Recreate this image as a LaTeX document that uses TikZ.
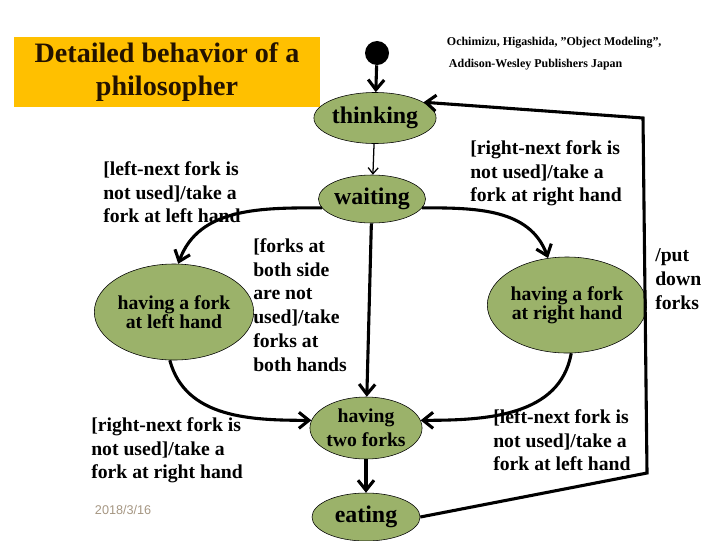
\documentclass[tikz,border=0pt]{standalone}
\usepackage{fontspec}
\setmainfont{Liberation Serif}
\newfontfamily\datefont{Liberation Sans}
\usetikzlibrary{arrows.meta,positioning,shapes.geometric}
\definecolor{stategreen}{RGB}{155,178,106}
\definecolor{titlegold}{RGB}{255,192,0}
\definecolor{titlebrown}{RGB}{35,18,0}
\definecolor{dategray}{RGB}{165,150,130}

\begin{document}
\begin{tikzpicture}[
	x=0.025cm, y=-0.025cm,
	every node/.style={font=\bfseries},
	state/.style={ellipse, draw, fill=stategreen, inner sep=0pt, align=center},
	guard/.style={anchor=north west, inner sep=0pt, align=left, font=\bfseries\fontsize{14}{17}\selectfont},
	arrow/.style={-{Straight Barb[length=2.5mm, width=4mm]}, line width=2.2pt},
	thinarrow/.style={-{Straight Barb[length=1.5mm, width=2.5mm]}, line width=0.9pt}
	]
	\useasboundingbox (0,0) rectangle (720,540);
	
	\node[fill=titlegold, text=titlebrown, minimum width=7.65cm, minimum height=1.75cm, align=center, font=\bfseries\fontsize{20}{23.5}\selectfont] (title) at (167,72) {Detailed behavior of a\\philosopher};
	\node[anchor=west, font=\bfseries\fontsize{8.5}{10}\selectfont] (cite1) at (442,43) {Ochimizu, Higashida, "Object Modeling",};
	\node[anchor=west, font=\bfseries\fontsize{8.5}{10}\selectfont] (cite2) at (444,65) {Addison-Wesley Publishers Japan};
	\node[anchor=west, text=dategray, font=\datefont\fontsize{9}{10}\selectfont] (date) at (90,510) {2018/3/16};
	
	\node[circle, fill=black, minimum size=0.6cm, inner sep=0pt] (init) at (377,53) {};
	\node[state, minimum width=2.25cm, minimum height=1.275cm, font=\bfseries\fontsize{17}{20}\selectfont] (thinking) at (375,118) {thinking};
	\node[state, minimum width=2.375cm, minimum height=1.2cm, font=\bfseries\fontsize{17}{20}\selectfont] (waiting) at (372,199) {waiting};
	\node[state, minimum width=3.3cm, minimum height=2.4cm, font=\bfseries\fontsize{14}{12.5}\selectfont] (left) at (174,312) {having a fork\\at left hand};
	\node[state, minimum width=3.15cm, minimum height=2.4cm, font=\bfseries\fontsize{14}{12.5}\selectfont] (right) at (567,305) {having a fork\\at right hand};
	\node[state, minimum width=2.7cm, minimum height=1.55cm, font=\bfseries\fontsize{14}{17}\selectfont] (two) at (366,428) {having\\two forks};
	\node[state, minimum width=2.7cm, minimum height=1.2cm, font=\bfseries\fontsize{17}{20}\selectfont] (eating) at (366,517) {eating};
	
	\node[guard] (gleft) at (103,161) {[left-next fork is\\not used]/take a\\fork at left hand};
	\node[guard] (gright) at (470,140) {[right-next fork is\\not used]/take a\\fork at right hand};
	\node[guard] (gboth) at (253,238) {[forks at\\both side\\are not\\used]/take\\forks at\\both hands};
	\node[guard] (gright2) at (91,417) {[right-next fork is\\not used]/take a\\fork at right hand};
	\node[guard] (gleft2) at (493,409) {[left-next fork is\\not used]/take a\\fork at left hand};
	\node[guard] (gput) at (655,248) {/put\\down\\forks};
	
	\coordinate (c1) at (647,473);
	\coordinate (c2) at (643,118);
	
	\draw[arrow] (init) -- (thinking);
	\draw[thinarrow] (thinking) -- (waiting);
	\draw[arrow] (waiting.190) to[out=180, in=70] (left.85);
	\draw[arrow] (waiting.-10) to[out=0, in=110] (right.112);
	\draw[arrow] (waiting) -- (two);
	\draw[arrow] (left.265) to[out=-75, in=180] (two.172);
	\draw[arrow] (right.275) to[out=-100, in=0] (two.8);
	\draw[arrow] (two) -- (eating);
	\draw[arrow] (eating.east) -- (c1) -- (c2) -- (thinking.18);
	
\end{tikzpicture}
\end{document}
